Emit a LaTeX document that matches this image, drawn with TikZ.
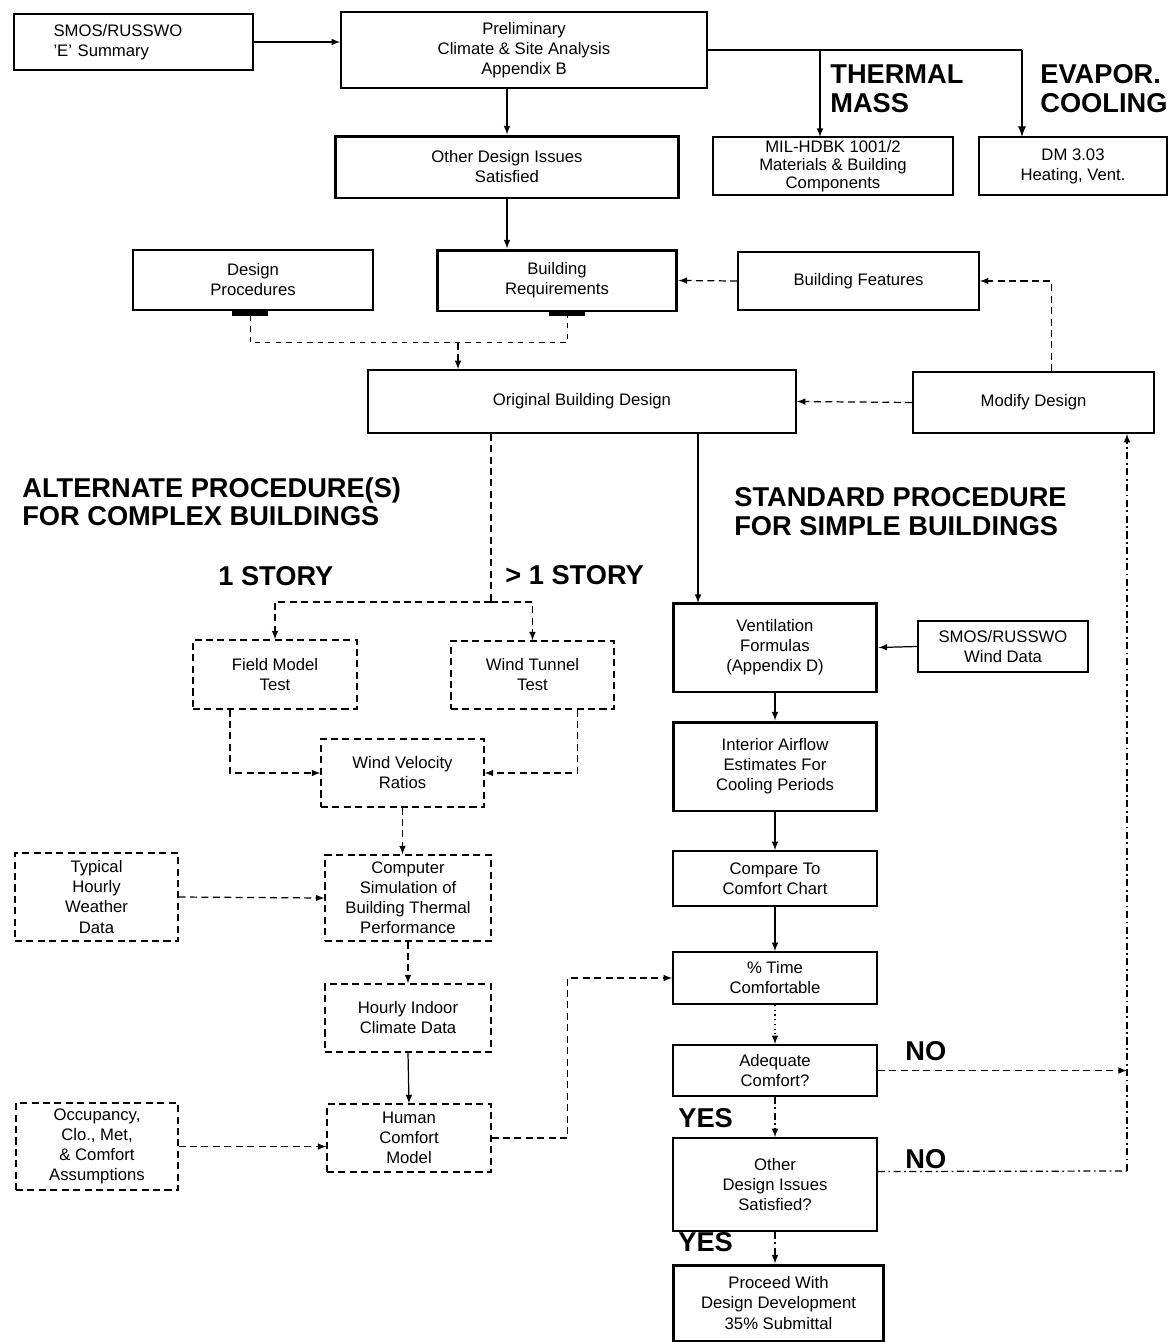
\documentclass[tikz,border=0pt]{standalone}
\usepackage{fontspec}
\setmainfont{Liberation Sans}
\usetikzlibrary{arrows,positioning,calc}

\newcommand{\boxfont}{\fontsize{9.5}{11.4}\selectfont}
\newcommand{\headfont}{\fontsize{15.5}{17}\selectfont\bfseries}

\begin{document}
\begin{tikzpicture}[x=0.02cm,y=-0.02cm,
  main box/.style={draw,line width=0.9pt,align=center,inner sep=0pt,font=\boxfont},
  heavy box/.style={main box,line width=1.7pt},
  dash box/.style={main box,line width=0.7pt,dash pattern=on 4pt off 2.5pt},
  tab/.style={fill=black,inner sep=0pt,minimum width=0.72cm,minimum height=0.1cm},
  link/.style={line width=0.7pt,-latex},
  dlink/.style={link,dash pattern=on 4pt off 2.5pt},
  dotlink/.style={link,dash pattern=on 4pt off 2pt on 1pt off 2pt},
  head/.style={anchor=base west,font=\headfont,inner sep=0pt}]
\fill[white] (0,0) rectangle (1172,1342);
\useasboundingbox (0,0) rectangle (1172,1342);

% top row
\node[main box,minimum width=4.78cm,minimum height=1.12cm,text width=3.2cm,align=left] (summary) at (133.5,42) {SMOS/RUSSWO\\'E' Summary};
\node[main box,minimum width=7.32cm,minimum height=1.52cm] (prelim) at (524,50) {Preliminary\\Climate \& Site Analysis\\Appendix B};
\node[heavy box,minimum width=6.88cm,minimum height=1.24cm] (other) at (507,167) {Other Design Issues\\Satisfied};
\node[main box,minimum width=4.8cm,minimum height=1.16cm,font=\fontsize{9.5}{10.2}\selectfont] (mil) at (833,166) {MIL-HDBK 1001/2\\Materials \& Building\\Components};
\node[main box,minimum width=3.76cm,minimum height=1.16cm] (dm) at (1073,166) {DM 3.03\\Heating, Vent.};

\node[head] (thermal) at (830,83) {THERMAL};
\node[head] (mass) at (830,112) {MASS};
\node[head] (evapor) at (1040,83) {EVAPOR.};
\node[head] (cooling) at (1040,112) {COOLING};

% design inputs
\node[main box,minimum width=4.8cm,minimum height=1.2cm] (desproc) at (253,280) {Design\\Procedures};
\node[heavy box,minimum width=4.8cm,minimum height=1.22cm] (bldgreq) at (557,280.5) {Building\\Requirements};
\node[main box,minimum width=4.82cm,minimum height=1.16cm] (bldgfeat) at (858.5,281) {Building Features};
\node[tab] (dptab) at (250,313) {};
\node[tab,minimum height=0.08cm] (brtab) at (567,314) {};
\node[main box,minimum width=8.56cm,minimum height=1.26cm] (orig) at (582,401.5) {Original Building Design};
\node[main box,minimum width=4.82cm,minimum height=1.22cm] (modify) at (1033.5,402.5) {Modify Design};

\node[head] (alt1) at (22,497) {ALTERNATE PROCEDURE(S)};
\node[head] (alt2) at (22,525) {FOR COMPLEX BUILDINGS};
\node[head] (std1) at (734,506) {STANDARD PROCEDURE};
\node[head] (std2) at (734,535) {FOR SIMPLE BUILDINGS};
\node[head] (onestory) at (218,585) {1 STORY};
\node[head] (morestory) at (505,584) {> 1 STORY};

% alternate procedure
\node[dash box,minimum width=3.28cm,minimum height=1.38cm] (field) at (275,674.5) {Field Model\\Test};
\node[dash box,minimum width=3.26cm,minimum height=1.36cm] (tunnel) at (532.5,675) {Wind Tunnel\\Test};
\node[dash box,minimum width=3.26cm,minimum height=1.36cm] (velocity) at (402.5,773) {Wind Velocity\\Ratios};
\node[dash box,minimum width=3.26cm,minimum height=1.76cm] (typical) at (96.5,897) {Typical\\Hourly\\Weather\\Data};
\node[dash box,minimum width=3.32cm,minimum height=1.72cm] (compsim) at (408,898) {Computer\\Simulation of\\Building Thermal\\Performance};
\node[dash box,minimum width=3.32cm,minimum height=1.36cm] (hourly) at (408,1018) {Hourly Indoor\\Climate Data};
\node[dash box,minimum width=3.24cm,minimum height=1.74cm] (occupancy) at (97,1146.5) {Occupancy,\\Clo., Met,\\\& Comfort\\Assumptions};
\node[dash box,minimum width=3.28cm,minimum height=1.36cm] (human) at (409,1138) {Human\\Comfort\\Model};

% standard procedure
\node[heavy box,minimum width=4.08cm,minimum height=1.78cm] (vent) at (775,647.5) {Ventilation\\Formulas\\(Appendix D)};
\node[main box,minimum width=3.4cm,minimum height=1.02cm] (smoswind) at (1003,646.5) {SMOS/RUSSWO\\Wind Data};
\node[heavy box,minimum width=4.08cm,minimum height=1.78cm] (airflow) at (775,766.5) {Interior Airflow\\Estimates For\\Cooling Periods};
\node[main box,minimum width=4.08cm,minimum height=1.1cm] (compare) at (775,878.5) {Compare To\\Comfort Chart};
\node[main box,minimum width=4.08cm,minimum height=1.04cm] (pct) at (775,978) {\% Time\\Comfortable};
\node[main box,minimum width=4.08cm,minimum height=1.02cm] (adequate) at (775,1070.5) {Adequate\\Comfort?};
\node[main box,minimum width=4.08cm,minimum height=1.86cm] (issues) at (775,1184.5) {Other\\Design Issues\\Satisfied?};
\node[heavy box,minimum width=4.22cm,minimum height=1.52cm] (proceed) at (778.5,1303) {Proceed With\\Design Development\\35\% Submittal};

\node[head] (no1) at (905,1060) {NO};
\node[head] (no2) at (905,1168) {NO};
\node[head] (yes1) at (678,1127) {YES};
\node[head] (yes2) at (678,1251) {YES};

% connectors
\coordinate (milin) at (820,137);
\coordinate (dmin) at (1022,137);
\coordinate (merge) at (458,343);
\coordinate (stdin) at (698,603);
\coordinate (split) at (491,602);
\coordinate (loop) at (1127,1171);

\draw[link] (summary.east) -- (summary.east -| prelim.west);
\draw[line width=1.7pt] (prelim.east) -- (prelim.east -| dmin);
\draw[line width=1.1pt,-latex] (prelim.east -| dmin) -- (dmin);
\draw[link] (prelim.east -| milin) -- (milin);
\draw[link] (other.north |- prelim.south) -- (other.north);
\draw[link] (other.south) -- (other.south |- bldgreq.north);
\draw[line width=0.5pt,dashed] (dptab.south) -- ++(0,27) -| (brtab.south);
\draw[dlink] (merge) -- (merge |- orig.north);
\draw[dlink] (bldgfeat.west) -- (bldgreq.east);
\draw[dlink] ([xshift=0.36cm]modify.north) |- (bldgfeat.east);
\draw[dlink] (modify.west) -- (orig.east);
\draw[link] (orig.south -| stdin) -- (stdin);

\draw[dlink,-] (orig.south -| split) -- (split);
\draw[dlink] (split) -| (field.north);
\draw[dlink] (split) -| (tunnel.north);
\draw[dlink] ([xshift=-0.9cm]field.south) |- (velocity.west);
\draw[dlink] ([xshift=0.9cm]tunnel.south) |- (velocity.east);
\draw[dlink] (velocity.south) -- (velocity.south |- compsim.north);
\draw[dlink] (typical.east) -- (compsim.west);
\draw[dlink] (compsim.south) -- (hourly.north);
\draw[link] (hourly.south) -- (human.north);
\draw[dlink] (occupancy.east) -- (occupancy.east -| human.west);
\draw[dlink] (human.east) -- ++(76,0) |- (pct.west);

\draw[link] (smoswind.west) -- (vent.east);
\draw[link] (vent.south) -- (airflow.north);
\draw[link] (airflow.south) -- (compare.north);
\draw[link] (compare.south) -- (pct.north);
\draw[link,dotted] (pct.south) -- (adequate.north);
\draw[dotlink] (adequate.south) -- (issues.north);
\draw[dotlink] (issues.south) -- (issues.south |- proceed.north);
\draw[dlink] (adequate.east) -- (adequate.east -| loop);
\draw[dotlink,-] ([yshift=0.26cm]issues.east) -- (loop);
\draw[dotlink] (loop) -- (loop |- modify.south);
\end{tikzpicture}
\end{document}
